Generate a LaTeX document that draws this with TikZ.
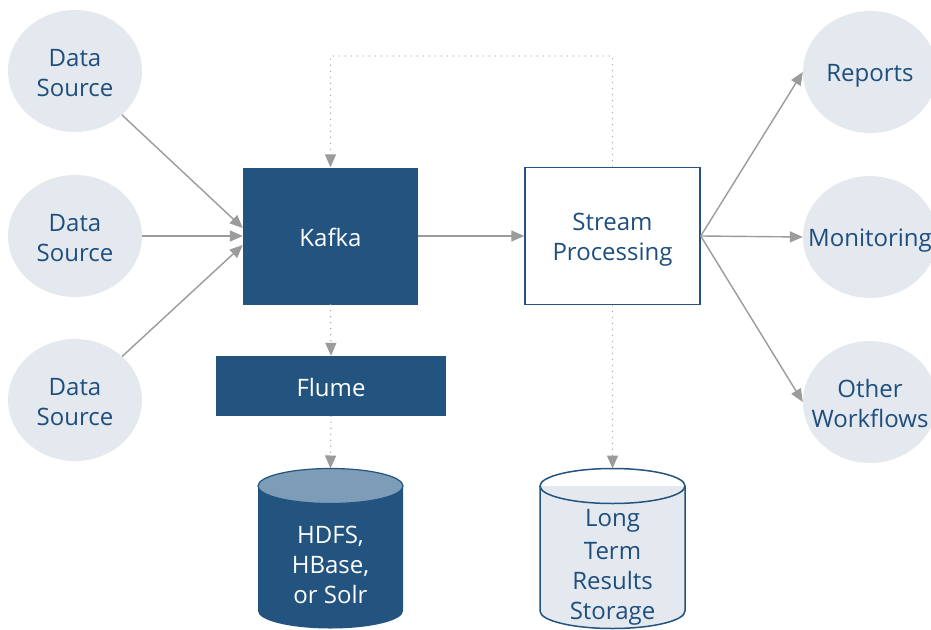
\documentclass[tikz,border=0pt]{standalone}
\usepackage{fontspec}
\setmainfont{Open Sans}
\usetikzlibrary{shapes.geometric,arrows.meta}
\definecolor{darkblue}{RGB}{35,84,128}
\definecolor{textblue}{RGB}{31,78,125}
\definecolor{lightfill}{RGB}{228,233,239}
\definecolor{captop}{RGB}{124,156,184}
\definecolor{arrowgray}{RGB}{155,155,155}
\newcommand\vfix{\rule[-4.5pt]{0pt}{30pt}}
\tikzset{
  txt/.style={align=center, inner sep=0pt, font=\fontsize{24}{30}\selectfont},
  src/.style={ellipse, fill=lightfill, minimum width=134pt, minimum height=122pt, inner sep=0pt},
  lbl/.style={txt, text=textblue},
  darkbox/.style={txt, rectangle, fill=darkblue, text=white},
  whitebox/.style={txt, rectangle, draw=darkblue, line width=1.5pt, fill=white, text=textblue},
  flow/.style={draw=arrowgray, line width=1.4pt, -{Triangle[length=13pt,width=11pt]}},
  dotflow/.style={flow, line cap=round, dash pattern=on 0pt off 6pt},
}
\begin{document}
\begin{tikzpicture}[x=1pt,y=-1pt]
\useasboundingbox (0,0) rectangle (931,629);
\fill[white] (0,0) rectangle (931,629);

% sources
\node[src, label={[lbl]center:\vfix Data\\\vfix Source}] (ds1) at (75,71) {};
\node[src, label={[lbl]center:\vfix Data\\\vfix Source}] (ds2) at (75,236) {};
\node[src, label={[lbl]center:\vfix Data\\\vfix Source}] (ds3) at (75,400) {};

% outputs
\node[src, label={[lbl]center:\vfix Reports}] (rep) at (870,72) {};
\node[src, label={[lbl]center:\vfix Monitoring}] (mon) at (870,237) {};
\node[src, label={[lbl]center:\vfix Other\\\vfix Workflows}] (oth) at (870,402) {};

% main boxes
\node[darkbox, minimum width=175pt, minimum height=137pt] (kafka) at (330.5,236) {\vfix Kafka};
\node[whitebox, minimum width=175pt, minimum height=137pt] (stream) at (612.5,236) {\vfix Stream\\\vfix Processing};
\node[darkbox, minimum width=230pt, minimum height=60pt] (flume) at (331,386) {\vfix Flume};

% cylinder HDFS
\fill[darkblue] (258,486) -- (258,611) arc[start angle=180, end angle=0, x radius=72.5, y radius=17.5] -- (403,486) -- cycle;
\fill[captop] (330.5,486) ellipse[x radius=72.5, y radius=17.5];
\draw[darkblue, line width=1.2pt] (330.5,486) ellipse[x radius=72.5, y radius=17.5];
\coordinate (hdfstop) at (330.5,468.5);
\node[txt, text=white] (hdfs) at (330.5,563) {\vfix HDFS,\\\vfix HBase,\\\vfix or Solr};

% cylinder long term
\filldraw[fill=lightfill, draw=darkblue, line width=1.5pt] (540,486) -- (540,611) arc[start angle=180, end angle=0, x radius=72.5, y radius=17.5] -- (685,486);
\draw[darkblue, line width=1.5pt] (612.5,486) ellipse[x radius=72.5, y radius=17.5];
\coordinate (ltstop) at (612.5,468.5);
\node[txt, text=textblue] (lts) at (612.5,563) {\vfix Long\\\vfix Term\\\vfix Results\\\vfix Storage};

% source arrows
\draw[flow] (ds1) -- ([yshift=8pt]kafka.west);
\draw[flow] (ds2) -- (kafka.west);
\draw[flow] (ds3) -- ([yshift=-9pt]kafka.west);

\draw[flow] (kafka.east) -- (stream.west);

% output arrows
\draw[flow] (stream.east) -- (rep.west);
\draw[flow] (stream.east) -- (mon.west);
\draw[flow] (stream.east) -- (oth.west);

% dotted
\coordinate (loopr) at (612.5,56);
\coordinate (loopl) at (330.5,56);
\draw[dotflow] (stream.north) -- (loopr) -- (loopl) -- (kafka.north);
\draw[dotflow] (kafka.south) -- (flume.north);
\draw[dotflow] (flume.south) -- (hdfstop);
\draw[dotflow] (stream.south) -- (ltstop);
\end{tikzpicture}
\end{document}
